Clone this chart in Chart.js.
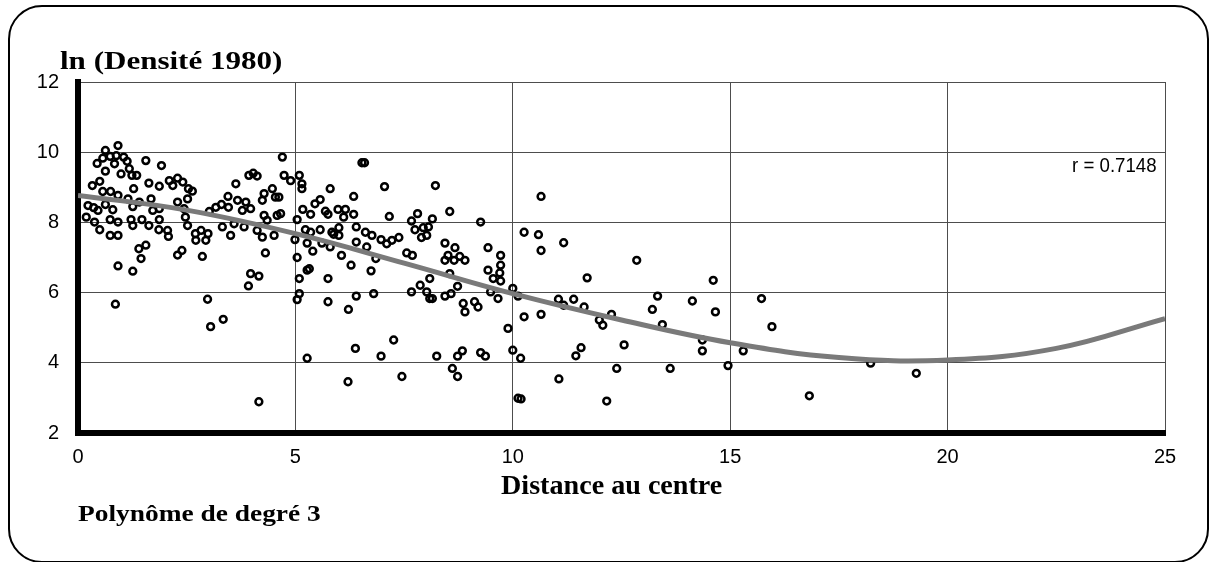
<!DOCTYPE html>
<html>
<head>
<meta charset="utf-8">
<title>ln (Densité 1980)</title>
<script src="https://cdn.jsdelivr.net/npm/chart.js@4.4.1/dist/chart.umd.min.js"></script>
<style>
  html, body { margin: 0; padding: 0; background: #fff; overflow: hidden; }
  #wrap { position: relative; width: 1210px; height: 562px; }
  #frame { position: absolute; left: 8px; top: 5px; width: 1201px; height: 558px;
           border: 2px solid #000; border-radius: 34px; box-sizing: border-box; }
  canvas { position: absolute; left: 0; top: 0; }
  .lbl { position: absolute; white-space: nowrap; line-height: 1; color: #000; transform-origin: 0 0; }
  .serif { font-family: "Liberation Serif", "Times New Roman", serif; font-weight: bold; }
  .sans { font-family: "Liberation Sans", Arial, sans-serif; }
</style>
</head>
<body>
<div id="wrap">
  <div id="frame"></div>
  <canvas id="c" width="1210" height="562"></canvas>
  <div class="lbl serif" data-w="222" style="left:60px; top:48px; font-size:26px;">ln (Densité 1980)</div>
  <div class="lbl serif" data-w="221" style="left:501px; top:471px; font-size:28px;">Distance au centre</div>
  <div class="lbl serif" data-w="243" style="left:78px; top:502px; font-size:23px;">Polynôme de degré 3</div>
  <div class="lbl sans" data-w="85" style="left:1072px; top:155px; font-size:20px;">r = 0.7148</div>
</div>
<script>
// distance au centre (x) and ln(densité 1980) (y)
const distance = [
  0.63, 0.92, 0.44, 0.57, 0.74, 0.88, 1.05, 1.13, 0.63, 0.84,
  0.99, 1.18, 1.24, 1.35, 1.56, 1.92, 1.28, 1.63, 1.87, 0.33,
  0.50, 0.57, 0.75, 0.92, 0.23, 0.36, 0.46, 0.63, 0.80, 1.15,
  1.26, 1.41, 1.68, 1.72, 1.87, 0.19, 0.38, 0.50, 0.74, 0.92,
  0.74, 0.92, 1.22, 1.26, 1.47, 1.63, 1.87, 1.86, 2.06, 2.08,
  1.40, 1.56, 1.45, 0.92, 1.26, 0.86, 2.10, 2.29, 2.41, 2.54,
  2.63, 2.18, 2.29, 2.52, 2.44, 2.47, 2.52, 2.29, 2.39, 2.86,
  2.70, 2.71, 2.83, 2.94, 2.99, 3.02, 3.17, 3.30, 3.45, 3.46,
  3.63, 3.67, 3.86, 3.32, 3.51, 3.59, 3.82, 3.78, 3.97, 3.93,
  4.03, 4.12, 4.28, 4.24, 4.47, 4.54, 4.62, 4.70, 4.74, 4.89,
  4.58, 4.66, 4.28, 4.35, 4.12, 4.24, 4.51, 4.31, 3.97, 4.16,
  3.92, 2.98, 3.05, 3.34, 4.16,
  5.09, 5.15, 5.15, 5.80, 6.53, 6.59, 6.34, 7.05, 8.22, 5.45,
  5.57, 5.17, 5.35, 5.69, 5.75, 5.98, 6.15, 6.11, 6.34, 5.04,
  5.23, 5.35, 5.57, 5.84, 6.00, 6.00, 5.88, 6.40, 6.61, 6.76,
  6.97, 7.16, 7.10, 7.22, 7.38, 7.67, 7.81, 7.75, 7.94, 8.06,
  7.90, 8.02, 8.15, 8.55, 9.26, 4.99, 5.27, 5.40, 5.61, 5.80,
  6.06, 6.28, 6.40, 6.64, 6.85, 5.04, 5.09, 5.27, 5.32, 5.75,
  6.74, 7.56, 7.69, 8.44, 8.67, 8.51, 8.78, 8.90, 8.44, 8.65,
  9.43, 9.72, 9.72, 9.70, 9.72, 9.55, 9.43, 8.09, 8.73, 8.55,
  5.09, 5.04, 6.40, 6.80, 5.75, 6.22, 7.67, 7.87, 8.02, 8.09,
  8.15, 8.44, 8.58, 8.86, 8.90, 9.12, 9.20, 9.49, 9.66, 10.00,
  10.12, 9.89,
  5.27, 6.21, 6.38, 6.97, 7.26, 7.45, 8.25, 8.61, 8.73, 8.73,
  8.84, 9.26, 9.37, 10.00, 10.18, 10.12, 10.19,
  10.65, 10.26, 10.59, 10.65, 11.17, 12.85, 11.71, 14.61, 10.26, 10.65,
  11.05, 11.17, 11.40, 11.64, 11.99, 12.07, 12.27, 13.33, 13.21, 13.44,
  14.13, 14.66, 14.36, 14.36, 15.30, 15.72, 15.96, 11.57, 11.45, 12.56,
  12.39, 13.62, 14.95, 11.06, 12.16,
  16.82, 18.23, 19.28
];
const lnDensity = [
  10.05, 10.19, 9.68, 9.83, 9.88, 9.90, 9.86, 9.74, 9.46, 9.67,
  9.38, 9.53, 9.34, 9.34, 9.76, 9.62, 8.96, 9.12, 9.03, 9.05,
  9.17, 8.88, 8.88, 8.77, 8.48, 8.42, 8.34, 8.51, 8.36, 8.67,
  8.45, 8.58, 8.67, 8.34, 8.39, 8.15, 8.01, 7.79, 8.08, 8.01,
  7.63, 7.63, 8.08, 7.91, 8.08, 7.91, 8.08, 7.79, 7.77, 7.60,
  7.25, 7.35, 6.97, 6.76, 6.61, 5.67, 9.19, 9.26, 9.15, 8.96,
  8.89, 9.05, 8.58, 8.67, 8.39, 8.15, 7.91, 7.07, 7.20, 7.03,
  7.68, 7.49, 7.77, 7.49, 7.68, 8.31, 8.43, 8.51, 8.74, 8.43,
  9.10, 8.63, 8.58, 7.87, 7.63, 7.96, 7.87, 8.34, 8.39, 9.34,
  9.40, 9.32, 8.82, 8.63, 8.96, 8.72, 8.72, 9.86, 9.34, 9.19,
  8.20, 8.25, 8.20, 8.06, 7.77, 7.58, 7.63, 7.13, 6.54, 6.47,
  6.19, 5.81, 5.03, 5.24, 2.89,
  9.34, 9.10, 8.96, 8.96, 9.70, 9.70, 8.74, 9.02, 9.05, 8.53,
  8.65, 8.37, 8.23, 8.32, 8.23, 8.37, 8.37, 8.15, 8.23, 8.08,
  7.79, 7.72, 7.79, 7.72, 7.85, 7.63, 7.66, 7.87, 7.72, 7.63,
  7.51, 8.17, 7.39, 7.49, 7.57, 8.04, 8.25, 7.79, 7.85, 7.87,
  7.57, 7.63, 8.10, 8.31, 8.01, 7.51, 7.41, 7.18, 7.41, 7.30,
  7.06, 6.78, 7.44, 7.30, 6.97, 7.00, 6.40, 6.64, 6.68, 6.40,
  6.62, 7.13, 7.06, 7.41, 7.28, 7.06, 7.03, 6.92, 6.92, 6.92,
  7.28, 7.06, 6.78, 6.56, 6.33, 6.40, 6.64, 6.40, 6.18, 6.54,
  5.97, 5.80, 5.90, 5.97, 5.74, 5.52, 6.02, 6.21, 6.02, 5.83,
  5.83, 5.90, 5.97, 5.69, 5.45, 5.74, 5.59, 6.02, 5.83, 6.12,
  5.90, 4.98,
  4.13, 3.46, 4.41, 4.19, 4.65, 3.61, 4.19, 3.84, 3.61, 4.19,
  4.34, 4.29, 4.19, 4.36, 4.13, 2.99, 2.97,
  8.74, 7.72, 7.65, 7.20, 7.42, 6.92, 6.42, 6.35, 5.31, 5.38,
  5.81, 5.64, 5.81, 5.59, 5.22, 5.07, 5.38, 5.90, 5.52, 5.09,
  5.76, 5.45, 4.65, 4.34, 4.34, 5.83, 5.03, 4.43, 4.20, 4.51,
  3.84, 3.84, 3.92, 3.54, 2.91,
  3.06, 3.99, 3.70
];

// degree-3 polynomial trend
const fitDistance = [0, 2.5, 5, 7.5, 10, 12.5, 15, 17.5, 20, 22.5, 25];
const fitLnDensity = [8.77, 8.35, 7.68, 6.84, 5.97, 5.22, 4.57, 4.15, 4.08, 4.41, 5.26];

const xTicks = [0, 5, 10, 15, 20, 25];
const yTicks = [2, 4, 6, 8, 10, 12];

const tickFont = { family: '"Liberation Sans", Arial, sans-serif', size: 20 };

new Chart(document.getElementById('c'), {
  type: 'scatter',
  data: {
    datasets: [
      {
        data: fitDistance.map((x, i) => ({ x: x, y: fitLnDensity[i] })),
        showLine: true,
        tension: 0.4,
        borderColor: '#7a7a7a',
        borderWidth: 5,
        pointRadius: 0,
        fill: false
      },
      {
        data: distance.map((x, i) => ({ x: x, y: lnDensity[i] })),
        pointRadius: 3.4,
        pointBorderWidth: 2.5,
        borderColor: '#000',
        backgroundColor: 'rgba(0,0,0,0)'
      }
    ]
  },
  options: {
    responsive: false,
    animation: false,
    events: [],
    layout: { padding: { left: 0, right: 45, top: 82, bottom: 89 } },
    plugins: { legend: { display: false }, tooltip: { enabled: false } },
    scales: {
      x: {
        type: 'linear',
        min: 0,
        max: 25,
        afterBuildTicks: s => { s.ticks = xTicks.map(v => ({ value: v })); },
        afterFit: s => { s.height = 40; },
        grid: { color: '#4d4d4d', lineWidth: 1, drawTicks: false },
        border: { color: '#000', width: 6 },
        ticks: { padding: 12, color: '#000', font: tickFont }
      },
      y: {
        min: 2,
        max: 12,
        afterBuildTicks: s => { s.ticks = yTicks.map(v => ({ value: v })); },
        afterFit: s => { s.width = 78; },
        grid: { color: '#4d4d4d', lineWidth: 1, drawTicks: false },
        border: { color: '#000', width: 6 },
        ticks: { padding: 19, color: '#000', font: tickFont }
      }
    }
  }
});

// stretch the texts to the widths they have in the figure
document.querySelectorAll('.lbl').forEach(el => {
  const w = +el.dataset.w;
  el.style.transform = 'scaleX(' + (w / el.offsetWidth) + ')';
});
</script>
</body>
</html>
